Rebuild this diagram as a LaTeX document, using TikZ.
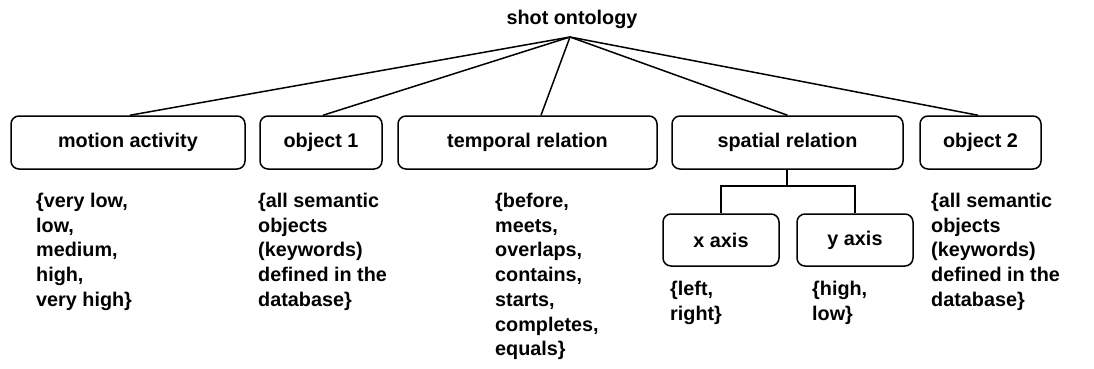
\documentclass[tikz,border=0pt]{standalone}
\usepackage{fontspec}
\setmainfont{Liberation Sans}
\begin{document}
\begin{tikzpicture}[x=1pt,y=-1pt,
  every node/.style={font=\bfseries\fontsize{19.8}{24.7}\selectfont},
  box/.style={draw, line width=1.5pt, rounded corners=8pt, minimum height=53pt, inner sep=0pt},
  vals/.style={align=left, anchor=north west, inner sep=0pt},
  conn/.style={line width=1.5pt}]
\useasboundingbox (0,0) rectangle (1094,369);
\node[inner sep=0pt] (root) at (572,19) {shot ontology};
\coordinate (apex) at (570,37);
\node[box, minimum width=234pt] (motion) at (128,142.5) {motion activity};
\node[box, minimum width=122pt] (obj1) at (321,142.5) {object 1};
\node[box, minimum width=259pt] (temporal) at (527.5,142.5) {temporal relation};
\node[box, minimum width=231pt] (spatial) at (787.5,142.5) {spatial relation};
\node[box, minimum width=121pt] (obj2) at (980.5,142.5) {object 2};
\node[box, minimum width=116pt, minimum height=52pt] (xaxis) at (721,240) {x axis};
\node[box, minimum width=116pt, minimum height=52pt] (yaxis) at (855,240) {y axis};
\draw[conn] (apex) -- ([xshift=2pt]motion.north);
\draw[conn] (apex) -- ([xshift=2pt]obj1.north);
\draw[conn] (apex) -- ([xshift=13.5pt]temporal.north);
\draw[conn] (apex) -- (spatial.north);
\draw[conn] (apex) -- ([xshift=-2.5pt]obj2.north);
\coordinate (fork) at (787,186);
\draw[conn] (fork |- spatial.south) -- (fork);
\draw[conn] (xaxis.north) |- (fork) -| (yaxis.north);
\node[vals] (vmotion) at (36,193) {\{very low,\\low,\\medium,\\high,\\very high\}};
\node[vals] (vobj1) at (258,193) {\{all semantic\\objects\\(keywords)\\defined in the\\database\}};
\node[vals] (vtemp) at (495,193) {\{before,\\meets,\\overlaps,\\contains,\\starts,\\completes,\\equals\}};
\node[vals] (vx) at (670,281) {\{left,\\right\}};
\node[vals] (vy) at (812,281) {\{high,\\low\}};
\node[vals] (vobj2) at (931,193) {\{all semantic\\objects\\(keywords)\\defined in the\\database\}};
\end{tikzpicture}
\end{document}
